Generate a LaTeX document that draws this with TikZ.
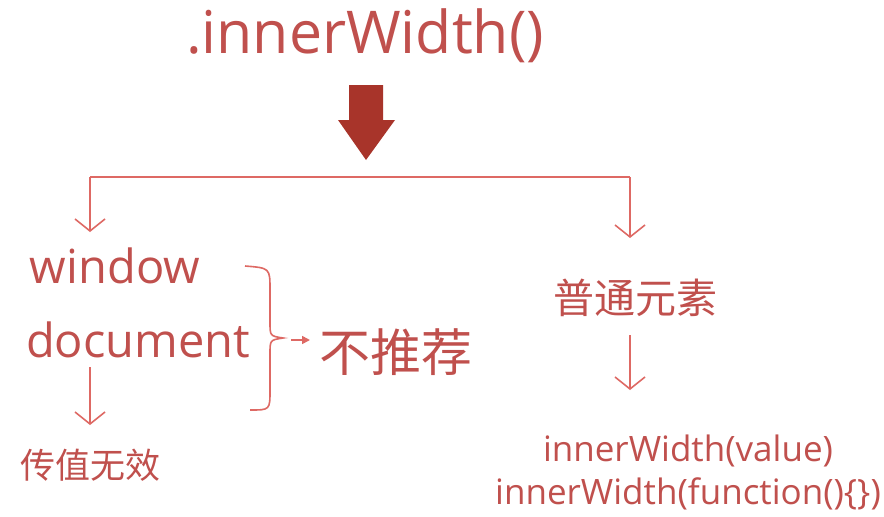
\documentclass[tikz,border=0pt]{standalone}
\usepackage{fontspec}
\setmainfont{Open Sans}
\newfontfamily\cjk{Noto Sans CJK SC}
\usetikzlibrary{arrows.meta}
\definecolor{txt}{RGB}{192,80,77}
\definecolor{ln}{RGB}{222,105,100}
\definecolor{blk}{RGB}{168,52,42}
\begin{document}
\begin{tikzpicture}[x=1pt,y=-1pt,
  lbl/.style={text=txt,inner sep=0pt,anchor=center},
  con/.style={draw=ln,line width=1.6pt},
  chev/.style={con,-{Straight Barb[length=12pt,width=30pt,line width=1.6pt]}}]
\useasboundingbox (0,0) rectangle (884,517);
\fill[white] (0,0) rectangle (884,517);
\node[lbl,font=\fontsize{59}{64}\selectfont] (title) at (365,36) {.innerWidth()};
\fill[blk] (349,85) -- (383,85) -- (383,120) -- (395,120) -- (366,160) -- (338,120) -- (349,120) -- cycle;
\coordinate (tl) at (90,177);
\coordinate (tr) at (630,177);
\coordinate (al) at (90,232);
\coordinate (ar) at (630,238);
\draw[con] (tl) -- (tr);
\draw[chev] (tl) -- (al);
\draw[chev] (tr) -- (ar);
\node[lbl,font=\fontsize{47}{52}\selectfont] (win) at (115,266) {window};
\node[lbl,font=\fontsize{47}{52}\selectfont] (doc) at (138,340) {document};
\draw[con] (245,266) .. controls (270,268) .. (270,290) -- (270,322) .. controls (270,336) .. (283,338) .. controls (270,340) .. (270,354) -- (270,390) .. controls (270,410) .. (250,410);
\coordinate (sa) at (291,340);
\coordinate (sb) at (310,340);
\node[lbl,font=\cjk\fontsize{51}{56}\selectfont] (nt) at (396,352) {不推荐};
\draw[con,-{Triangle[length=8pt,width=8pt]}] (sa) -- (sb);
\coordinate (d1) at (90,367);
\coordinate (d2) at (90,425);
\draw[chev] (d1) -- (d2);
\node[lbl,font=\cjk\fontsize{35}{40}\selectfont] (cz) at (90,465) {传值无效};
\node[lbl,font=\cjk\fontsize{41}{46}\selectfont] (pt) at (635,298) {普通元素};
\coordinate (e1) at (630,335);
\coordinate (e2) at (630,390);
\draw[chev] (e1) -- (e2);
\node[lbl,font=\fontsize{35}{40}\selectfont] (v1) at (688,451) {innerWidth(value)};
\node[lbl,font=\fontsize{35}{40}\selectfont] (v2) at (688,494) {innerWidth(function()\{\})};
\end{tikzpicture}
\end{document}
